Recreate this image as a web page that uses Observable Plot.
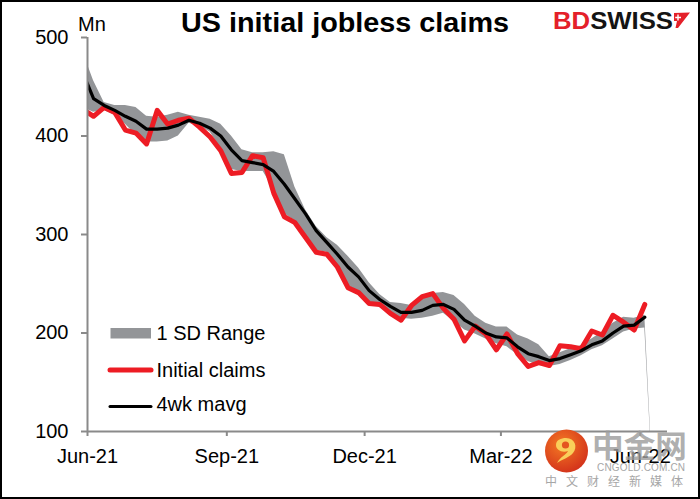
<!DOCTYPE html>
<html>
<head>
<meta charset="utf-8">
<script src="https://cdn.jsdelivr.net/npm/d3@7"></script>
<script src="https://cdn.jsdelivr.net/npm/@observablehq/plot@0.6"></script>
<style>
  body { margin: 0; background: #fff; }
  #chart { position: relative; width: 700px; height: 499px; overflow: hidden; background: #fff;
           font-family: "Liberation Sans", Arial, sans-serif; }
  #chart svg { position: absolute; left: 0; top: 0; }
  #chart .border { position: absolute; left: 0; top: 0; width: 700px; height: 499px;
                   box-sizing: border-box; border: 2px solid #000; pointer-events: none; }
</style>
</head>
<body>
<div id="chart"></div>
<script>
// Weekly US initial jobless claims (thousands), week-ending dates
const weeks = [
  "2021-05-29","2021-06-05","2021-06-12","2021-06-19","2021-06-26","2021-07-03","2021-07-10",
  "2021-07-17","2021-07-24","2021-07-31","2021-08-07","2021-08-14","2021-08-21","2021-08-28",
  "2021-09-04","2021-09-11","2021-09-18","2021-09-25","2021-10-02","2021-10-09","2021-10-16",
  "2021-10-23","2021-10-30","2021-11-06","2021-11-13","2021-11-20","2021-11-27","2021-12-04",
  "2021-12-11","2021-12-18","2021-12-25","2022-01-01","2022-01-08","2022-01-15","2022-01-22",
  "2022-01-29","2022-02-05","2022-02-12","2022-02-19","2022-02-26","2022-03-05","2022-03-12",
  "2022-03-19","2022-03-26","2022-04-02","2022-04-09","2022-04-16","2022-04-23","2022-04-30",
  "2022-05-07","2022-05-14","2022-05-21","2022-05-28","2022-06-04"
];
const initialClaims = [
  427, 420, 429, 424, 406, 403, 392,
  426, 412, 416, 418, 409, 399, 385,
  362, 363, 380, 378, 342, 318, 312,
  297, 282, 280, 267, 246, 241, 230,
  229, 220, 213, 228, 237, 240, 225,
  214, 192, 207, 199, 183, 199, 179,
  166, 170, 167, 187, 186, 184, 202,
  198, 218, 211, 203, 229
];
const fourWeekAvg = [
  464, 438, 431, 426, 420, 415, 407,
  407, 408, 411, 416, 413, 408, 400,
  386, 375, 373, 371, 364, 351, 336,
  321, 304, 292, 280, 267, 257, 243,
  234, 227, 221, 221, 223, 228, 229,
  224, 213, 207, 200, 196, 195, 186,
  179, 176, 172, 174, 178, 182, 188,
  192, 200, 207, 208, 216
];
// 1 standard-deviation range around the moving average
const sdLow = [
  429, 424, 426, 421, 412, 401, 394,
  394, 395, 400, 413, 410, 404, 387,
  366, 364, 364, 364, 346, 321, 314,
  299, 284, 282, 269, 248, 243, 232,
  226, 220, 215, 214, 215, 217, 220,
  212, 203, 199, 194, 189, 186, 178,
  171, 167, 166, 168, 172, 177, 183,
  187, 194, 201, 204, 205
];
const sdHigh = [
  485, 456, 434, 431, 431, 429, 420,
  419, 421, 424, 421, 419, 417, 412,
  400, 386, 383, 383, 384, 381, 348,
  325, 308, 297, 289, 278, 266, 251,
  239, 231, 230, 228, 234, 240, 241,
  238, 229, 217, 210, 206, 206, 198,
  194, 188, 176, 180, 184, 187, 194,
  201, 210, 216, 215, 218
];
// the range series closes with an empty (zero) week after the last release
const sdTailWeek = "2022-06-11";
const sdTailValue = 0;

const xDomain = ["2021-06-01", "2022-06-19"];
const xTicks = ["2021-06-01", "2021-09-01", "2021-12-01", "2022-03-01", "2022-06-01"];
const yDomain = [100, 500];
const yTicks = [100, 200, 300, 400, 500];

const parse = d3.utcParse("%Y-%m-%d");
const rows = weeks.map((w, i) => ({
  date: parse(w), claims: initialClaims[i], avg: fourWeekAvg[i], lo: sdLow[i], hi: sdHigh[i]
}));
const bandRows = rows.concat([{date: parse(sdTailWeek), lo: sdTailValue, hi: sdTailValue}]);

const FONT = "'Liberation Sans', Arial, sans-serif";
const AXIS_GREY = "#8a8a8a";
const BAND_GREY = "#939598";
const RED = "#ed1c24";

const plot = Plot.plot({
  width: 700,
  height: 499,
  marginTop: 37,
  marginBottom: 68,
  marginLeft: 87,
  marginRight: 33,
  style: {fontFamily: FONT, fontSize: "20px", color: "#000", background: "transparent", overflow: "visible"},
  x: {type: "utc", domain: xDomain.map(parse)},
  y: {domain: yDomain},
  marks: [
    Plot.areaY(bandRows, {x: "date", y1: "lo", y2: "hi", fill: BAND_GREY, clip: true}),
    Plot.lineY(rows, {x: "date", y: "claims", stroke: RED, strokeWidth: 5,
                      strokeLinejoin: "round", strokeLinecap: "round", clip: true}),
    Plot.lineY(rows, {x: "date", y: "avg", stroke: "#000", strokeWidth: 3.2,
                      strokeLinejoin: "round", clip: true}),
    Plot.ruleX([parse(xDomain[0])], {stroke: AXIS_GREY, strokeWidth: 2}),
    Plot.ruleY([yDomain[0]], {stroke: AXIS_GREY, strokeWidth: 2}),
    Plot.axisY({ticks: yTicks, tickSize: 6, tickPadding: 13, stroke: AXIS_GREY, strokeWidth: 2,
                fill: "#000", tickFormat: d => String(d), label: null}),
    Plot.axisX({ticks: xTicks.map(parse), tickSize: 5, tickPadding: 12, stroke: AXIS_GREY, strokeWidth: 2,
                fill: "#000", tickFormat: d3.utcFormat("%b-%y"), label: null})
  ]
});

const chart = document.getElementById("chart");
chart.appendChild(plot);

// Title, unit, legend, brand marks
const svg = d3.select(chart).append("svg")
  .attr("width", 700).attr("height", 499)
  .style("font-family", FONT);

svg.append("text").attr("x", 345).attr("y", 31.5).attr("text-anchor", "middle")
  .attr("font-size", 28).attr("font-weight", "bold").attr("textLength", 328)
  .attr("lengthAdjust", "spacingAndGlyphs").text("US initial jobless claims");

svg.append("text").attr("x", 78).attr("y", 31).attr("font-size", 20).text("Mn");

// BDSWISS logo
const logo = svg.append("text").attr("x", 553).attr("y", 28.5).attr("font-size", 23)
  .attr("font-weight", "bold").attr("textLength", 120).attr("lengthAdjust", "spacingAndGlyphs");
logo.append("tspan").attr("fill", "#e4202a").text("BD");
logo.append("tspan").attr("fill", "#141414").text("SWISS");
svg.append("path").attr("d", "M674,13 L690,12.5 L678,28 L675.5,28 L677,21 L674,21 Z").attr("fill", "#e4202a");
svg.append("path").attr("d", "M678,14.5 V20.5 M675.2,17.5 H681").attr("stroke", "#fff").attr("stroke-width", 1.4);

// Legend
const legend = svg.append("g").attr("font-size", 20);
legend.append("rect").attr("x", 110.5).attr("y", 328).attr("width", 40.5).attr("height", 10.5).attr("fill", BAND_GREY);
legend.append("text").attr("x", 156.5).attr("y", 340).text("1 SD Range");
legend.append("line").attr("x1", 110).attr("x2", 151).attr("y1", 370).attr("y2", 370)
  .attr("stroke", RED).attr("stroke-width", 5).attr("stroke-linecap", "round");
legend.append("text").attr("x", 156.5).attr("y", 377).text("Initial claims");
legend.append("line").attr("x1", 110).attr("x2", 151).attr("y1", 406.5).attr("y2", 406.5)
  .attr("stroke", "#000").attr("stroke-width", 3).attr("stroke-linecap", "round");
legend.append("text").attr("x", 156.5).attr("y", 411).text("4wk mavg");

// 中金网 watermark
const wm = svg.append("g");
const grad = svg.append("defs").append("radialGradient").attr("id", "wmGrad")
  .attr("cx", "40%").attr("cy", "35%").attr("r", "70%");
grad.append("stop").attr("offset", "0%").attr("stop-color", "#f47a24");
grad.append("stop").attr("offset", "100%").attr("stop-color", "#d2301a");
wm.append("circle").attr("cx", 566.5).attr("cy", 451).attr("r", 21.5).attr("fill", "url(#wmGrad)");
wm.append("path")
  .attr("d", "M566,438 C575,438 578,447 573,453 C569,458 562,459 557,463 C560,457 566,455 568,451 C562,453 556,450 556,445 C556,440 561,438 566,438 Z")
  .attr("fill", "#f9cf5a");
wm.append("circle").attr("cx", 565.5).attr("cy", 445).attr("r", 3.6).attr("fill", "#e4551f");
wm.append("text").attr("x", 592).attr("y", 457).attr("font-size", 31).attr("font-weight", "bold")
  .attr("font-family", "'Noto Sans CJK SC', sans-serif").attr("fill", "#9d9d9d").attr("fill-opacity", 0.82)
  .attr("textLength", 95).attr("lengthAdjust", "spacingAndGlyphs").text("中金网");
wm.append("text").attr("x", 597).attr("y", 470.5).attr("font-size", 10).attr("fill", "#a6a6a6")
  .attr("textLength", 88).attr("lengthAdjust", "spacing").text("CNGOLD.COM.CN");
wm.append("text").attr("x", 545).attr("y", 486).attr("font-size", 12)
  .attr("font-family", "'Noto Sans CJK SC', sans-serif").attr("fill", "#a6a6a6")
  .attr("textLength", 138).attr("lengthAdjust", "spacing").text("中文财经新媒体");

const border = document.createElement("div");
border.className = "border";
chart.appendChild(border);
</script>
</body>
</html>
